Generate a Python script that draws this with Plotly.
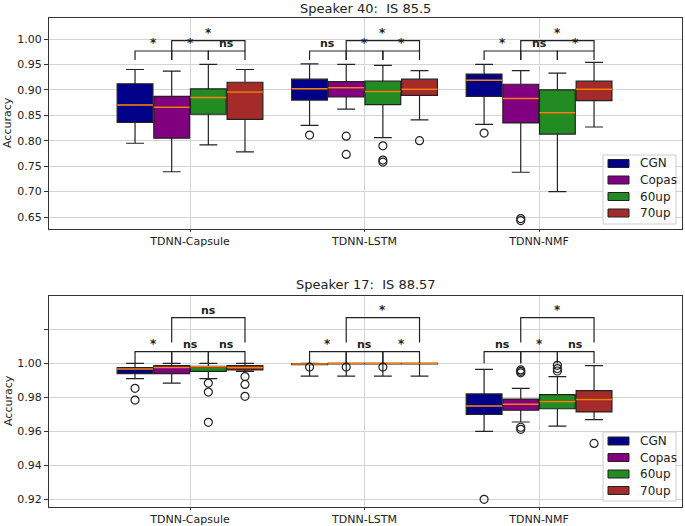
import plotly.graph_objects as go

# ---------------- data ----------------
models = ["TDNN-Capsule", "TDNN-LSTM", "TDNN-NMF"]
series = ["CGN", "Copas", "60up", "70up"]
colors = ["#000088", "#800080", "#228B22", "#A52A2A"]

# 5-number summaries per model: [lower whisker, q1, median, q3, upper whisker]
# Speaker 40
s40_cgn = [[0.795, 0.836, 0.870, 0.912, 0.940],
           [0.830, 0.880, 0.902, 0.921, 0.951],
           [0.832, 0.887, 0.919, 0.931, 0.950]]
s40_copas = [[0.739, 0.805, 0.866, 0.887, 0.937],
             [0.862, 0.886, 0.904, 0.916, 0.950],
             [0.738, 0.835, 0.883, 0.911, 0.938]]
s40_60up = [[0.792, 0.852, 0.885, 0.902, 0.950],
            [0.806, 0.871, 0.897, 0.917, 0.948],
            [0.700, 0.813, 0.855, 0.900, 0.933]]
s40_70up = [[0.778, 0.842, 0.896, 0.915, 0.940],
            [0.841, 0.889, 0.901, 0.921, 0.938],
            [0.827, 0.879, 0.901, 0.917, 0.954]]
s40_out_cgn = [[], [0.811], [0.815]]
s40_out_copas = [[], [0.809, 0.773], [0.647, 0.643]]
s40_out_60up = [[], [0.790, 0.762, 0.758], []]
s40_out_70up = [[], [0.800], []]

# Speaker 17
s17_cgn = [[0.991, 0.9939, 0.9967, 0.9975, 1.000],
           [0.9925, 0.9992, 0.9996, 0.9999, 1.000],
           [0.960, 0.970, 0.9749, 0.982, 0.9965]]
s17_copas = [[0.9884, 0.9939, 0.9976, 0.9986, 1.000],
             [0.9925, 0.9997, 1.000, 1.000, 1.000],
             [0.9655, 0.9724, 0.9759, 0.979, 0.9853]]
s17_60up = [[0.991, 0.9953, 0.998, 0.9982, 1.000],
            [0.9925, 0.9997, 1.000, 1.000, 1.000],
            [0.9631, 0.9733, 0.9776, 0.9816, 0.9922]]
s17_70up = [[0.9953, 0.9961, 0.9976, 0.9986, 1.000],
            [0.9925, 0.9997, 1.000, 1.000, 1.000],
            [0.9669, 0.9714, 0.9788, 0.9839, 0.9986]]
s17_out_cgn = [[0.9853, 0.9784], [0.9978], [0.920]]
s17_out_copas = [[], [0.9978], [0.9961, 0.9953, 0.9944, 0.9624, 0.9612]]
s17_out_60up = [[0.9884, 0.9831, 0.9653], [0.9978], [0.9988, 0.9969, 0.9955]]
s17_out_70up = [[0.9922, 0.9876, 0.9806], [], [0.9529]]

# significance labels: adjacent pairs (CGN-Copas, Copas-60up, 60up-70up), then Copas-70up
s40_sig_adjacent = [["*", "*", "ns"], ["ns", "*", "*"], ["*", "ns", "*"]]
s40_sig_top = ["*", "*", "*"]
s17_sig_adjacent = [["*", "ns", "ns"], ["*", "ns", "*"], ["ns", "*", "ns"]]
s17_sig_top = ["ns", "*", "*"]

titles = ["Speaker 40:\u00a0\u00a0IS 85.5", "Speaker 17:\u00a0\u00a0IS 88.57"]

# ---------------- layout constants ----------------
W, H = 685, 526
ML, MR, MT, MB = 49, 3, 18, 19
offsets = [-0.315, -0.105, 0.105, 0.315]
box_w = 0.205
FONT = "DejaVu Sans"
MEDIAN_COLOR = "#FF7F0E"


def px_x(px):
    return (px - ML) / (W - ML - MR)


def px_y(py):
    return (H - MB - py) / (H - MT - MB)


fig = go.Figure()

panels = [
    dict(stats=[s40_cgn, s40_copas, s40_60up, s40_70up],
         outs=[s40_out_cgn, s40_out_copas, s40_out_60up, s40_out_70up],
         sig_adj=s40_sig_adjacent, sig_top=s40_sig_top,
         xa="x", ya="y",
         l1=(0.9764, 0.9587), l2=(0.9967, 0.9764),
         leg_box=(603, 155, 676, 224), leg_rows=[163.5, 180, 196.5, 213]),
    dict(stats=[s17_cgn, s17_copas, s17_60up, s17_70up],
         outs=[s17_out_cgn, s17_out_copas, s17_out_60up, s17_out_70up],
         sig_adj=s17_sig_adjacent, sig_top=s17_sig_top,
         xa="x2", ya="y2",
         l1=(1.0069, 1.0000), l2=(1.0269, 1.0122),
         leg_box=(603, 432, 676, 501), leg_rows=[441, 457.5, 474, 490.5]),
]

shapes = []
annotations = []

for p in panels:
    med_x, med_y = [], []
    out_x, out_y = [], []
    for si, name in enumerate(series):
        st = p["stats"][si]
        xs = [mi + 1 + offsets[si] for mi in range(len(models))]
        fig.add_trace(go.Box(
            x=xs, orientation="v",
            lowerfence=[s[0] for s in st], q1=[s[1] for s in st],
            median=[s[2] for s in st], q3=[s[3] for s in st],
            upperfence=[s[4] for s in st],
            width=box_w, whiskerwidth=0.5, boxpoints=False,
            fillcolor=colors[si], line=dict(color="#222222", width=1.2),
            name=name, showlegend=False,
            xaxis=p["xa"], yaxis=p["ya"], hoverinfo="skip",
        ))
        for mi in range(len(models)):
            x = xs[mi]
            med_x += [x - box_w / 2, x + box_w / 2, None]
            med_y += [st[mi][2], st[mi][2], None]
            for v in p["outs"][si][mi]:
                out_x.append(x)
                out_y.append(v)
    fig.add_trace(go.Scatter(x=med_x, y=med_y, mode="lines",
                             line=dict(color=MEDIAN_COLOR, width=1.5),
                             showlegend=False, hoverinfo="skip",
                             xaxis=p["xa"], yaxis=p["ya"]))
    fig.add_trace(go.Scatter(x=out_x, y=out_y, mode="markers",
                             marker=dict(symbol="circle-open", size=8,
                                         color="#222222", line=dict(width=1.2)),
                             showlegend=False, hoverinfo="skip",
                             xaxis=p["xa"], yaxis=p["ya"]))

    # significance brackets
    def bracket(x1, x2, top, leg, label):
        shapes.append(dict(type="path", xref=p["xa"], yref=p["ya"],
                           path=f"M {x1},{leg} L {x1},{top} L {x2},{top} L {x2},{leg}",
                           line=dict(color="#222222", width=1.2)))
        annotations.append(dict(x=(x1 + x2) / 2, y=top, xref=p["xa"], yref=p["ya"],
                                text=f"<b>{label}</b>", showarrow=False,
                                yanchor="bottom", borderpad=0,
                                font=dict(family=FONT, size=12 if label == "*" else 11,
                                          color="#222222")))

    for mi in range(len(models)):
        c = [mi + 1 + o for o in offsets]
        for k in range(3):
            bracket(c[k], c[k + 1], p["l1"][0], p["l1"][1], p["sig_adj"][mi][k])
        bracket(c[1], c[3], p["l2"][0], p["l2"][1], p["sig_top"][mi])

    # legend (drawn as a framed key in the lower-right corner)
    x0, y0, x1, y1 = p["leg_box"]
    shapes.append(dict(type="rect", xref="paper", yref="paper",
                       x0=px_x(x0), x1=px_x(x1), y0=px_y(y1), y1=px_y(y0),
                       fillcolor="rgba(255,255,255,0.85)",
                       line=dict(color="#cccccc", width=1)))
    for si, name in enumerate(series):
        ry = p["leg_rows"][si]
        shapes.append(dict(type="rect", xref="paper", yref="paper",
                           x0=px_x(608), x1=px_x(629), y0=px_y(ry + 4), y1=px_y(ry - 4),
                           fillcolor=colors[si], line=dict(color="#222222", width=1)))
        annotations.append(dict(text=name, x=px_x(638), y=px_y(ry), xref="paper",
                                yref="paper", showarrow=False, xanchor="left",
                                yanchor="middle",
                                font=dict(family=FONT, size=12, color="#222")))

# titles and y labels
annotations.append(dict(text=titles[0], x=0.5, y=px_y(8), xref="paper", yref="paper",
                        showarrow=False, font=dict(family=FONT, size=13, color="#222"),
                        xanchor="center", yanchor="middle"))
annotations.append(dict(text=titles[1], x=0.5, y=px_y(284), xref="paper", yref="paper",
                        showarrow=False, font=dict(family=FONT, size=13, color="#222"),
                        xanchor="center", yanchor="middle"))
for yy in [px_y(123), px_y(401)]:
    annotations.append(dict(text="Accuracy", x=px_x(8), y=yy, xref="paper", yref="paper",
                            showarrow=False, textangle=-90,
                            font=dict(family=FONT, size=11, color="#222"),
                            xanchor="center", yanchor="middle"))

axis_common = dict(showline=True, mirror=True, linecolor="#333333", linewidth=1,
                   showgrid=True, gridcolor="#d3d3d3", gridwidth=1, zeroline=False,
                   ticks="outside", tickcolor="#333333", automargin=False,
                   tickfont=dict(family=FONT, size=11, color="#222"))

xr = [0.192, 3.819]
fig.update_layout(
    width=W, height=H,
    margin=dict(l=ML, r=MR, t=MT, b=MB),
    paper_bgcolor="white", plot_bgcolor="white",
    font=dict(family=FONT, size=11, color="#222"),
    xaxis=dict(domain=[0, 1], range=xr, anchor="y", tickvals=[1, 2, 3],
               ticktext=models, ticklen=2, **axis_common),
    yaxis=dict(domain=[0.5685, 1.0], range=[0.6264, 1.0413], anchor="x",
               tickvals=[0.65, 0.70, 0.75, 0.80, 0.85, 0.90, 0.95, 1.00],
               ticktext=["0.65", "0.70", "0.75", "0.80", "0.85", "0.90", "0.95", "1.00"],
               ticklen=4, **axis_common),
    xaxis2=dict(domain=[0, 1], range=xr, anchor="y2", tickvals=[1, 2, 3],
                ticktext=models, ticklen=2, **axis_common),
    yaxis2=dict(domain=[0, 0.4315], range=[0.9155, 1.0396], anchor="x2",
                tickvals=[0.92, 0.94, 0.96, 0.98, 1.00, 1.02],
                ticktext=["0.92", "0.94", "0.96", "0.98", "1.00", ""],
                ticklen=4, **axis_common),
    showlegend=False,
    shapes=shapes,
    annotations=annotations,
    boxmode="overlay",
)

fig.write_html("out.html", config={"displayModeBar": False},
               post_script="document.body.style.margin='0';document.body.style.padding='0';")
